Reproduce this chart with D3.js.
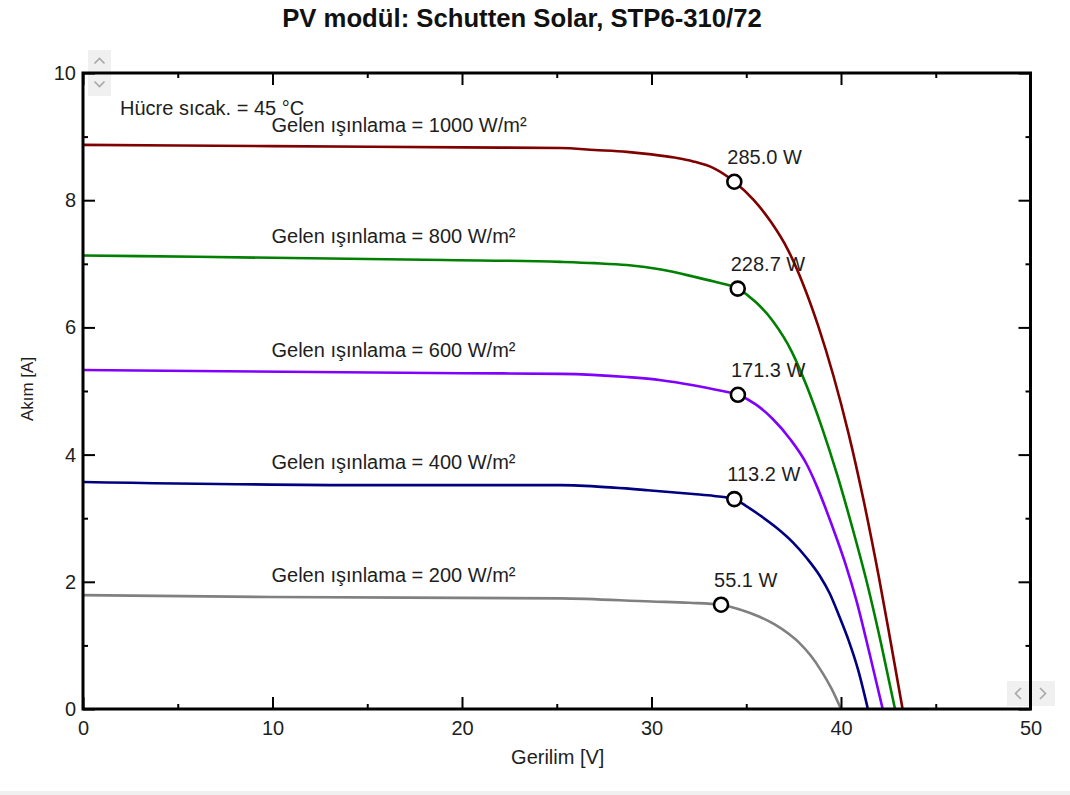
<!DOCTYPE html>
<html><head><meta charset="utf-8">
<script src="https://cdn.jsdelivr.net/npm/d3@7"></script>
<style>
body{margin:0;background:#fff}
svg{display:block}
text{font-family:"Liberation Sans",Arial,sans-serif}
</style>
</head><body>
<svg id="c" width="1070" height="795"></svg>
<script>
// ---------------- data ----------------
const irradiance = [1000, 800, 600, 400, 200];
const seriesColors = ["#800000", "#008000", "#8000ff", "#000080", "#808080"];

const v1000 = [0, 10, 20, 25.2, 27, 28.7, 30, 31.2, 32.2, 33.3, 34.37, 35.4, 36.3, 37.2, 38.0, 38.8, 39.6, 40.4, 41.2, 42.0, 42.6, 43.25];
const i1000 = [8.87, 8.85, 8.83, 8.82, 8.79, 8.76, 8.72, 8.67, 8.61, 8.50, 8.29, 8.00, 7.66, 7.22, 6.68, 6.02, 5.24, 4.33, 3.27, 2.07, 1.09, 0];

const v800 = [0, 3, 19, 25.2, 27, 28.7, 30.5, 32.2, 33.3, 34.55, 35.5, 36.4, 37.4, 38.2, 39.0, 39.8, 40.6, 41.4, 42.1, 42.85];
const i800 = [7.13, 7.12, 7.06, 7.03, 7.01, 6.98, 6.91, 6.80, 6.72, 6.61, 6.40, 6.10, 5.62, 5.07, 4.42, 3.68, 2.85, 1.95, 1.05, 0];

const v600 = [0, 20, 25.2, 28.7, 30.5, 32.2, 33.4, 34.56, 35.5, 36.4, 37.3, 38.17, 38.7, 39.22, 39.75, 40.28, 40.8, 41.5, 42.2];
const i600 = [5.33, 5.28, 5.27, 5.22, 5.17, 5.09, 5.02, 4.94, 4.79, 4.56, 4.25, 3.86, 3.52, 3.13, 2.70, 2.24, 1.72, 0.88, 0];

const v400 = [0, 15, 25.2, 28, 29.8, 32.2, 33.3, 34.37, 35.0, 35.7, 36.6, 37.46, 38.2, 38.87, 39.4, 39.92, 40.4, 40.9, 41.42];
const i400 = [3.57, 3.52, 3.52, 3.48, 3.44, 3.38, 3.35, 3.30, 3.19, 3.05, 2.85, 2.62, 2.37, 2.10, 1.82, 1.45, 1.08, 0.62, 0];

const v200 = [0, 10, 25.2, 30, 32, 33.67, 34.7, 35.7, 36.5, 37.2, 37.8, 38.4, 39.0, 39.5, 40.0];
const i200 = [1.79, 1.76, 1.74, 1.69, 1.67, 1.64, 1.56, 1.45, 1.33, 1.19, 1.04, 0.84, 0.58, 0.32, 0];

const mppV = [34.37, 34.55, 34.56, 34.37, 33.67];
const mppI = [8.29, 6.61, 4.94, 3.30, 1.64];
const mppP = [285.0, 228.7, 171.3, 113.2, 55.1];

const xTicks = [0, 10, 20, 30, 40, 50];
const xMinor = [5, 15, 25, 35, 45];
const yTicks = [0, 2, 4, 6, 8, 10];
const yMinor = [1, 3, 5, 7, 9];

const titleText = "PV modül: Schutten Solar, STP6-310/72";
const xLabel = "Gerilim [V]";
const yLabel = "Akım [A]";
const tempText = "Hücre sıcak. = 45 °C";

// ---------------- drawing ----------------
const svg = d3.select("#c");
const pL = 83, pR = 1030.5, pT = 73, pB = 709;
const x = d3.scaleLinear().domain([0, 50]).range([pL, pR]);
const y = d3.scaleLinear().domain([0, 10]).range([pB, pT]);

const curves = [
  d3.zip(v1000, i1000), d3.zip(v800, i800), d3.zip(v600, i600),
  d3.zip(v400, i400), d3.zip(v200, i200)
];

// light bottom strip
svg.append("rect").attr("x", 0).attr("y", 791).attr("width", 1070).attr("height", 4).attr("fill", "#f0f0f0");

// title
svg.append("text").attr("x", 522).attr("y", 27).attr("text-anchor", "middle")
  .attr("font-size", 25.7).attr("font-weight", "bold").attr("fill", "#111").text(titleText);

// scroll buttons (decor)
const btn = svg.append("g");
function box(bx, by, w, h) {
  btn.append("rect").attr("x", bx).attr("y", by).attr("width", w).attr("height", h).attr("fill", "#f0f0f0");
}
function chev(pts) {
  btn.append("polyline").attr("points", pts.map(p => p.join(",")).join(" "))
    .attr("fill", "none").attr("stroke", "#a8a8a8").attr("stroke-width", 1.6);
}
box(88, 50, 23, 23); box(88, 73, 23, 23);
chev([[94.5, 63.5], [99.5, 58.5], [104.5, 63.5]]);
chev([[94.5, 81.5], [99.5, 86.5], [104.5, 81.5]]);
box(1007, 681, 24, 25); box(1031, 681, 24, 25);
chev([[1021, 688], [1015.5, 693.5], [1021, 699]]);
chev([[1040, 688], [1045.5, 693.5], [1040, 699]]);

// curves
const line = d3.line().x(d => x(d[0])).y(d => y(d[1])).curve(d3.curveMonotoneX);
curves.forEach((c, k) => {
  svg.append("path").attr("d", line(c)).attr("fill", "none")
    .attr("stroke", seriesColors[k]).attr("stroke-width", 2.6);
});

// irradiance labels
curves.forEach((c, k) => {
  svg.append("text").attr("x", x(10) - 1).attr("y", y(c[0][1]) - 13)
    .attr("font-size", 20).attr("fill", "#1e1e1e")
    .text(`Gelen ışınlama = ${irradiance[k]} W/m²`);
});

// temperature label
svg.append("text").attr("x", pL + 37).attr("y", 115).attr("font-size", 20).attr("fill", "#1e1e1e").text(tempText);

// axes
function styleAxis(g) {
  g.select(".domain").remove();
  g.selectAll(".tick line").attr("stroke", "#000").attr("stroke-width", 2);
  g.selectAll(".tick text").attr("font-size", 20).attr("fill", "#1e1e1e")
    .attr("font-family", '"Liberation Sans",Arial,sans-serif');
}
svg.append("g").attr("transform", `translate(0,${pB})`)
  .call(d3.axisBottom(x).tickValues(xTicks).tickSize(-12).tickPadding(12).tickFormat(d3.format("d"))).call(styleAxis);
svg.append("g").attr("transform", `translate(0,${pB})`)
  .call(d3.axisBottom(x).tickValues(xMinor).tickSize(-5).tickFormat("")).call(styleAxis);
svg.append("g").attr("transform", `translate(0,${pT})`)
  .call(d3.axisTop(x).tickValues(xTicks).tickSize(-12).tickFormat("")).call(styleAxis);
svg.append("g").attr("transform", `translate(0,${pT})`)
  .call(d3.axisTop(x).tickValues(xMinor).tickSize(-5).tickFormat("")).call(styleAxis);
svg.append("g").attr("transform", `translate(${pL},0)`)
  .call(d3.axisLeft(y).tickValues(yTicks).tickSize(-12).tickPadding(7).tickFormat(d3.format("d"))).call(styleAxis);
svg.append("g").attr("transform", `translate(${pL},0)`)
  .call(d3.axisLeft(y).tickValues(yMinor).tickSize(-5).tickFormat("")).call(styleAxis);
svg.append("g").attr("transform", `translate(${pR},0)`)
  .call(d3.axisRight(y).tickValues(yTicks).tickSize(-12).tickFormat("")).call(styleAxis);
svg.append("g").attr("transform", `translate(${pR},0)`)
  .call(d3.axisRight(y).tickValues(yMinor).tickSize(-5).tickFormat("")).call(styleAxis);

// frame
svg.append("rect").attr("x", pL).attr("y", pT).attr("width", pR - pL).attr("height", pB - pT)
  .attr("fill", "none").attr("stroke", "#000").attr("stroke-width", 3);

// axis titles
svg.append("text").attr("x", (pL + pR) / 2 + 1).attr("y", 764).attr("text-anchor", "middle")
  .attr("font-size", 20).attr("fill", "#1e1e1e").text(xLabel);
svg.append("text").attr("transform", "translate(33,389) rotate(-90)").attr("text-anchor", "middle")
  .attr("font-family", '"Liberation Serif","Times New Roman",serif')
  .attr("font-size", 17).attr("fill", "#1e1e1e").text(yLabel);

// MPP markers and power labels
mppV.forEach((v, k) => {
  svg.append("circle").attr("cx", x(v)).attr("cy", y(mppI[k])).attr("r", 7)
    .attr("fill", "#fff").attr("stroke", "#000").attr("stroke-width", 2.6);
  svg.append("text").attr("x", x(v) - 7).attr("y", y(mppI[k]) - 18)
    .attr("font-size", 20).attr("fill", "#1e1e1e").text(mppP[k].toFixed(1) + " W");
});
</script>
</body></html>
